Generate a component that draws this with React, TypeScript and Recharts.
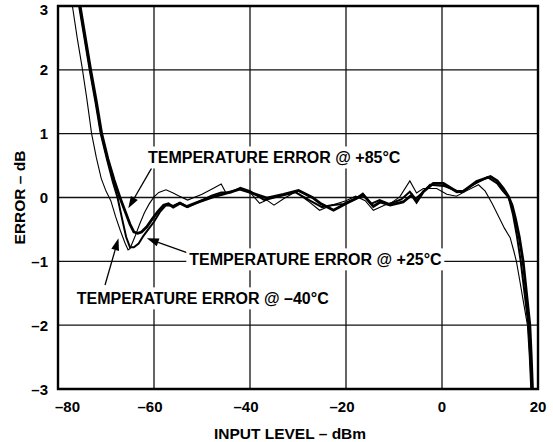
import React from 'react';
import {
  LineChart,
  Line,
  XAxis,
  YAxis,
  CartesianGrid,
  ReferenceLine,
  ReferenceDot,
  ReferenceArea,
} from 'recharts';

const xTicks = [-80, -60, -40, -20, 0, 20];
const yTicks = [-3, -2, -1, 0, 1, 2, 3];

// −40°C (thin)
const m40X = [-77.6, -77, -76, -75, -74, -73, -72, -71, -70, -69, -68, -67, -66, -65.4, -65, -64, -63, -62, -61, -60, -59, -57.5, -56, -55, -53, -50, -48, -46, -45, -42, -40, -38, -36.5, -35, -33, -30.5, -28, -25.5, -23, -20, -18, -16, -14.3, -12, -10.5, -8.8, -6.7, -5.3, -3.9, -1.1, 1, 3, 5, 7.6, 9, 10.5, 12, 13, 14.2, 15, 15.5, 16.2, 17, 17.8, 18.2, 18.5, 18.7];
const m40Y = [3.3, 3.0, 2.5, 2.05, 1.55, 1.0, 0.62, 0.3, 0.1, -0.05, -0.3, -0.52, -0.72, -0.82, -0.8, -0.62, -0.42, -0.24, -0.1, 0.01, 0.08, 0.12, 0.07, 0.03, -0.04, 0.05, 0.13, 0.21, 0.07, 0.14, 0.08, -0.09, -0.04, -0.12, -0.02, 0.09, -0.05, -0.2, -0.12, -0.05, 0.02, -0.05, -0.2, -0.12, -0.08, 0.01, 0.26, 0.07, 0.14, 0.14, 0.05, 0.02, 0.1, 0.2, 0.1, -0.1, -0.33, -0.48, -0.63, -0.85, -1.0, -1.3, -1.65, -2.0, -2.5, -3.0, -3.4];

// +25°C (medium)
const p25X = [-76.2, -75.6, -74.5, -73.4, -72.2, -71.1, -69.8, -68.6, -67.6, -66.6, -65.8, -65, -64.2, -63.2, -62.2, -61.2, -60, -58.7, -57.5, -56, -54.6, -53, -51, -48, -46, -44, -42, -40, -37, -34, -30.5, -27.5, -25, -23, -20.5, -18, -16.5, -14.8, -13, -11, -8.5, -6.7, -5.5, -4, -2.5, 0.5, 2.5, 4, 6.5, 9.5, 11.5, 12.5, 13.9, 14.8, 15.6, 16.4, 17.2, 18.0, 18.4, 18.7, 18.85];
const p25Y = [3.4, 3.0, 2.5, 2.0, 1.5, 1.0, 0.6, 0.25, 0.0, -0.35, -0.62, -0.78, -0.78, -0.72, -0.6, -0.5, -0.38, -0.22, -0.12, -0.13, -0.08, -0.15, -0.08, 0.03, 0.08, 0.08, 0.15, 0.1, -0.04, 0.02, 0.08, -0.05, -0.15, -0.12, -0.1, -0.02, 0.06, -0.1, -0.04, -0.1, -0.03, 0.09, -0.02, 0.08, 0.2, 0.18, 0.12, 0.08, 0.2, 0.32, 0.22, 0.12, 0.0, -0.27, -0.6, -1.0, -1.5, -2.0, -2.5, -3.0, -3.4];

// +85°C (thick)
const p85X = [-76, -75.4, -74.3, -73.2, -72, -70.9, -69.6, -68.3, -67.1, -66, -65, -64.2, -63.4, -62.6, -61.5, -60.3, -59.2, -58, -57, -56, -54.6, -53.2, -50.4, -47.7, -44.9, -42.1, -39.6, -36.5, -33, -29.9, -27, -25.4, -22.6, -19.9, -16.4, -14.3, -12.9, -10.8, -8.1, -6.3, -5.3, -3.9, -1.8, 0.3, 3.1, 4.5, 7.2, 10.1, 11.5, 12.8, 13.8, 14.6, 15.3, 16.1, 16.9, 17.6, 18.3, 18.6, 18.85, 19];
const p85Y = [3.4, 3.0, 2.5, 2.0, 1.5, 1.0, 0.6, 0.27, 0.0, -0.22, -0.42, -0.54, -0.56, -0.54, -0.46, -0.33, -0.22, -0.12, -0.1, -0.15, -0.09, -0.14, -0.06, 0.01, 0.07, 0.13, 0.07, -0.01, 0.05, 0.11, 0.0, -0.09, -0.2, -0.09, 0.04, -0.14, -0.07, -0.12, -0.07, 0.04, -0.07, 0.09, 0.22, 0.22, 0.09, 0.1, 0.25, 0.33, 0.26, 0.14, 0.02, -0.12, -0.33, -0.62, -1.0, -1.5, -2.0, -2.5, -3.0, -3.4];

const labelTexts = [
  'TEMPERATURE ERROR @ +85°C',
  'TEMPERATURE ERROR @ +25°C',
  'TEMPERATURE ERROR @ –40°C',
];
const labelAnchorX = [-61.25, -52.65, -76.1];
const labelAnchorY = [0.627, -0.969, -1.58];
const arrowTailX = [-60.5, -52.85, -70.2];
const arrowTailY = [0.46, -0.87, -1.37];
const arrowTipX = [-65.35, -61.5, -67.4];
const arrowTipY = [-0.17, -0.64, -0.64];

const toPoints = (xs: number[], ys: number[]) => xs.map((x, i) => ({ x, y: ys[i] }));
const m40Data = toPoints(m40X, m40Y);
const p25Data = toPoints(p25X, p25Y);
const p85Data = toPoints(p85X, p85Y);

const FONT = '"Liberation Sans", Arial, Helvetica, sans-serif';

const fmt = (v: number) => (v < 0 ? '–' + Math.abs(v) : String(v));

const XTick = (props: any) => {
  const { x, y, payload } = props;
  const v = payload.value as number;
  let tx = x;
  let anchor: 'start' | 'middle' | 'end' = 'middle';
  if (v === -80) {
    tx = x - 3;
    anchor = 'start';
  } else if (v < 0) {
    tx = x + 8.5;
    anchor = 'end';
  }
  return (
    <text x={tx} y={y + 23} textAnchor={anchor} fontSize={15} fontWeight="bold" fontFamily={FONT} fill="#000">
      {fmt(v)}
    </text>
  );
};

const YTick = (props: any) => {
  const { x, y, payload } = props;
  const v = payload.value as number;
  const dy = v === 3 ? 9 : 5.5;
  return (
    <text x={x - 10} y={y + dy} textAnchor="end" fontSize={15} fontWeight="bold" fontFamily={FONT} fill="#000">
      {fmt(v)}
    </text>
  );
};

const arrowShape = (p: any) => {
  const { x1, y1, x2, y2 } = p;
  const dx = x2 - x1;
  const dy = y2 - y1;
  const len = Math.sqrt(dx * dx + dy * dy) || 1;
  const ux = dx / len;
  const uy = dy / len;
  const hl = 12;
  const hw = 4;
  const bx = x2 - ux * hl;
  const by = y2 - uy * hl;
  const pts = `${x2},${y2} ${bx - uy * hw},${by + ux * hw} ${bx + uy * hw},${by - ux * hw}`;
  return (
    <g>
      <line x1={x1} y1={y1} x2={bx} y2={by} stroke="#000" strokeWidth={1.3} />
      <polygon points={pts} fill="#000" />
    </g>
  );
};

const makeLabelShape = (text: string) => (p: any) => {
  const { cx, cy } = p;
  return (
    <g>
      <rect x={cx - 3} y={cy - 11} width={258} height={22} fill="#fff" />
      <text x={cx} y={cy + 5.8} fontSize={16} fontWeight="bold" fontFamily={FONT} fill="#000">
        {text}
      </text>
    </g>
  );
};

export default function App() {
  return (
    <div style={{ position: 'absolute', left: 0, top: 0, background: '#fff' }}>
      <LineChart width={553} height={442} margin={{ top: 6, right: 15, bottom: 0, left: 0 }}>
        <CartesianGrid stroke="#111" strokeWidth={1.3} />
        <XAxis
          dataKey="x"
          type="number"
          domain={[-80, 20]}
          ticks={xTicks}
          allowDataOverflow
          height={53}
          tickSize={0}
          tickMargin={0}
          axisLine={false}
          tickLine={false}
          tick={<XTick />}
          interval={0}
          label={{
            content: (p: any) => {
              const vb = p.viewBox || { x: 58, y: 389, width: 480, height: 53 };
              return (
                <text
                  x={vb.x + vb.width / 2 - 8}
                  y={vb.y + 50}
                  textAnchor="middle"
                  fontSize={15.5}
                  fontWeight="bold"
                  fontFamily={FONT}
                  fill="#000"
                >
                  INPUT LEVEL – dBm
                </text>
              );
            },
          }}
        />
        <YAxis
          type="number"
          domain={[-3, 3]}
          ticks={yTicks}
          allowDataOverflow
          width={58}
          tickSize={0}
          tickMargin={0}
          axisLine={false}
          tickLine={false}
          tick={<YTick />}
          interval={0}
          label={{
            content: (p: any) => {
              const vb = p.viewBox || { x: 0, y: 6, width: 58, height: 383 };
              const cy = vb.y + vb.height / 2;
              return (
                <text
                  transform={`translate(25, ${cy}) rotate(-90)`}
                  textAnchor="middle"
                  fontSize={15.5}
                  fontWeight="bold"
                  fontFamily={FONT}
                  fill="#000"
                >
                  ERROR – dB
                </text>
              );
            },
          }}
        />
        <ReferenceArea x1={-80} x2={20} y1={-3} y2={3} fill="none" stroke="#000" strokeWidth={2.4} ifOverflow="visible" />
        <Line data={m40Data} dataKey="y" type="linear" stroke="#000" strokeWidth={1.1} dot={false} isAnimationActive={false} />
        <Line data={p25Data} dataKey="y" type="linear" stroke="#000" strokeWidth={2} dot={false} isAnimationActive={false} />
        <Line data={p85Data} dataKey="y" type="linear" stroke="#000" strokeWidth={2.8} dot={false} isAnimationActive={false} />
        {labelTexts.map((t, i) => (
          <ReferenceDot
            key={'lbl' + i}
            x={labelAnchorX[i]}
            y={labelAnchorY[i]}
            r={1}
            ifOverflow="visible"
            shape={makeLabelShape(t)}
          />
        ))}
        {labelTexts.map((_, i) => (
          <ReferenceLine
            key={'arr' + i}
            segment={[
              { x: arrowTailX[i], y: arrowTailY[i] },
              { x: arrowTipX[i], y: arrowTipY[i] },
            ]}
            ifOverflow="visible"
            shape={arrowShape}
          />
        ))}
      </LineChart>
    </div>
  );
}
